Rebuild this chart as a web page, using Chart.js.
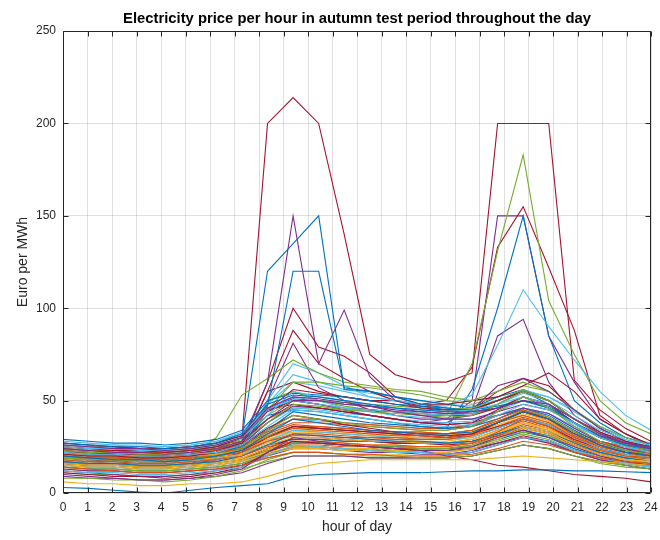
<!DOCTYPE html>
<html>
<head>
<meta charset="utf-8">
<script src="https://cdn.jsdelivr.net/npm/chart.js@4.4.1/dist/chart.umd.min.js"></script>
<style>
html,body{margin:0;padding:0;background:#fff;}
canvas{display:block;}
</style>
</head>
<body>
<canvas id="c" width="660" height="540"></canvas>
<script>
// Sample hours (24 samples spread from 0 to 24)
const sampleHours = [0,1.043,2.087,3.130,4.174,5.217,6.261,7.304,8.348,9.391,10.435,11.478,12.522,13.565,14.609,15.652,16.696,17.739,18.783,19.826,20.870,21.913,22.957,24];
const xTickLabels = [0,1,2,3,4,5,6,7,8,9,10,11,12,13,14,15,16,17,18,19,20,21,22,23,24];
const yTickLabels = [0,50,100,150,200,250];

// Lower part of the bundle
const lowSeries = [
 [3,2.5,1.5,0.5,0,1.5,3,4,5,9,10,10.5,11,11,11,11.5,12,12,12.5,12.5,12,12,11.5,11],
 [14,13,12,11,11,12,13,15,19,22,22,21,21,20,20,20,21,24,28,26,22,19,17,16],
 [6,5,5,4,4,5,5,6,9,13,16,17,18,18,18,18,18,19,20,19,18,17,16,15],
 [10,9,8,7,7,8,10,13,22,30,28,26,25,24,23,23,25,30,34,30,25,20,17,15],
 [8,8,7,7,6,7,9,12,18,22,22,21,20,20,19,19,20,23,26,24,20,17,15,13],
 [12,11,11,10,10,11,12,14,20,26,25,24,23,22,22,21,22,26,30,28,23,19,16,14],
 [11,10,9,9,8,9,11,14,22,28,27,26,25,24,23,20,18,15,14,12,10,9,8,6]
];

// Middle part of the bundle
const midSeries = [
 [20,19,18,18,17,18,20,23,32,40,38,36,34,33,32,32,33,38,44,40,32,26,22,20],
 [18,17,17,16,16,17,18,20,25,28,28,27,26,26,25,25,27,33,40,36,28,23,20,19],
 [16,15,15,14,14,15,16,18,22,25,25,24,24,23,23,23,25,30,36,33,26,21,18,17],
 [24,23,22,22,21,22,24,28,40,50,50,48,47,45,44,43,44,46,50,48,40,32,27,24],
 [19,18,18,17,17,18,20,24,34,42,40,38,36,35,34,34,36,44,52,46,36,28,23,21],
 [22,21,21,20,20,21,22,26,36,45,44,42,40,38,37,36,37,42,48,45,38,30,25,22],
 [21,20,20,19,19,20,22,26,35,42,40,37,35,33,32,31,32,38,44,40,32,26,22,20],

 [27,26,25,25,24,25,27,32,48,53,52,50,48,46,45,44,44,46,50,47,38,30,26,24],
 [20,19,19,18,18,19,20,22,28,32,32,31,30,30,29,29,31,38,44,40,31,25,22,21],
 [15,14,14,13,13,14,15,17,21,24,24,23,23,22,22,22,24,29,35,32,25,20,18,17],
 [26,25,24,24,23,24,26,30,46,52,51,49,47,44,42,40,40,44,48,45,38,31,27,25],
 [23,22,22,21,21,22,24,28,38,48,47,45,44,43,42,41,42,48,55,50,40,31,26,23],
 [25,24,24,23,23,24,26,30,42,55,52,50,48,46,45,44,45,48,52,48,40,32,27,24],
 [23,22,21,21,20,21,23,27,40,48,46,44,42,40,38,37,38,45,52,48,38,30,26,23],

 [17,16,16,15,15,16,17,20,26,32,31,30,29,28,28,27,28,32,36,33,27,22,19,17],
 [22,21,21,20,20,21,22,24,30,35,34,33,32,31,31,30,32,38,42,38,30,25,22,21],
 [19,18,18,17,17,18,19,21,26,30,30,29,28,28,27,27,29,34,38,35,28,23,20,19],
 [13,12,12,11,11,12,13,15,20,24,24,23,22,22,21,21,23,27,30,28,22,18,16,15],
 [16,15,15,14,14,15,16,18,23,27,27,26,25,25,24,24,26,30,33,31,25,20,18,16],
 [18,17,17,16,16,17,18,21,28,34,33,32,31,30,29,29,30,35,40,37,30,24,21,19],
 [19,18,18,17,17,18,20,23,30,36,35,34,33,32,31,30,32,36,40,36,29,24,21,19]
];

// Upper part of the bundle
const highSeries = [
 [29,28,27,27,26,27,29,34,50,54,53,52,50,48,47,45,45,47,50,46,38,31,27,25],
 [16,15,15,14,14,15,16,18,23,26,26,25,25,24,24,24,26,31,36,33,26,21,18,17],
 [21,20,20,19,19,20,21,23,29,33,33,32,31,30,30,29,31,36,40,36,29,24,21,20],
 [21,20,20,19,19,20,22,26,38,47,46,44,42,40,38,37,38,42,46,43,35,28,24,21],
 [14,13,13,12,12,13,14,16,21,25,25,24,23,23,22,22,24,28,32,29,23,19,16,15],
 [26,25,24,24,23,24,26,30,45,52,50,46,44,42,41,40,40,42,46,43,36,30,26,24],
 [25,24,23,23,22,23,25,30,45,56,54,52,50,48,46,45,45,50,55,50,40,32,27,24],

 [15,14,14,13,13,14,15,17,22,27,27,26,25,25,24,24,25,29,33,30,24,20,17,15],
 [24,23,23,22,22,23,24,26,32,37,36,35,34,33,33,32,34,40,45,40,32,27,24,22],
 [17,16,16,15,15,16,17,19,24,28,28,27,26,26,25,25,27,32,38,34,27,22,19,18],
 [12,11,10,9,9,10,12,15,21,25,25,24,23,22,22,21,22,26,30,27,22,18,15,13],
 [25,24,24,23,23,24,26,30,42,50,50,49,48,47,46,45,46,50,56,50,40,32,27,24],
 [14,13,13,12,12,13,14,16,22,27,27,26,25,24,24,23,25,29,33,30,24,19,16,14],
 [16,15,15,14,14,15,16,18,24,30,30,29,28,27,27,26,27,31,35,32,26,21,18,16],

 [22,21,21,20,20,21,22,25,34,44,42,40,38,37,36,35,36,40,46,42,34,27,23,21],
 [21,20,20,19,19,20,21,23,28,31,31,30,30,29,29,29,31,36,41,37,29,24,21,20],
 [23,22,22,21,21,22,23,25,30,34,34,33,32,32,31,31,33,38,43,39,31,26,23,21],
 [17,16,16,15,15,16,18,22,30,36,35,34,33,32,31,30,31,35,40,37,30,24,20,18],
 [20,19,19,18,18,19,21,24,31,36,35,34,33,32,31,31,33,38,45,41,33,26,22,20],
 [28,27,26,26,25,26,28,32,46,50,48,46,45,44,43,42,43,48,54,50,42,34,29,26],
 [27,26,25,24,24,25,27,31,44,50,48,46,45,44,43,42,42,46,52,48,40,33,28,25],

 [19,18,18,17,17,18,19,21,26,29,29,28,28,27,27,27,28,31,34,31,26,22,19,18],
 [19,18,18,17,17,18,19,21,26,29,29,28,28,28,27,27,29,34,39,35,28,23,20,19],
 [13,12,12,11,11,12,13,15,19,22,22,21,21,21,20,20,22,26,30,27,22,18,16,14],
 [9,8,8,7,7,8,9,11,16,20,20,20,19,19,19,19,20,23,26,24,20,17,15,13],
 [11,10,10,9,9,10,11,13,17,20,20,20,19,19,19,19,20,23,26,24,20,16,14,13],
 [24,23,23,22,22,23,24,27,38,46,45,43,42,40,39,38,39,44,50,46,37,30,25,23],
 [14,13,13,12,12,13,14,16,21,25,25,24,24,23,23,23,24,27,31,28,23,19,16,15]
];

// Days with price spikes
const spikeSeries = [
 [21,20,19,19,19,20,22,27,47,120,120,57,55,52,48,46,45,50,55,48,38,30,25,22],
 [23,22,22,21,21,22,23,25,31,36,36,35,34,33,33,32,34,39,44,39,31,26,23,21],
 [18,17,17,16,16,17,18,20,25,29,29,28,28,27,27,26,28,33,38,35,28,23,20,18],
 [20,19,18,18,18,19,22,28,60,150,70,99,63,50,46,44,45,58,62,55,45,35,28,24],
 [22,21,20,20,20,21,30,53,62,72,65,60,58,56,55,52,50,55,60,55,45,36,30,26],
 [18,17,17,16,16,17,19,24,50,70,65,58,52,50,48,46,45,50,56,52,45,36,29,25],
 [18,17,16,16,16,17,20,26,60,100,79,74,65,52,48,48,50,52,58,65,55,40,32,26],

 [24,23,22,22,22,23,25,30,120,135,150,56,55,52,50,48,46,52,56,50,40,32,27,24],
 [25,24,24,23,23,24,25,27,33,38,38,37,36,35,34,34,36,42,46,41,33,28,25,23],
 [20,19,19,18,18,19,20,22,27,31,31,30,29,29,28,28,30,35,40,36,29,24,21,20],
 [16,15,15,14,14,15,18,22,50,81,57,50,45,42,40,40,42,48,55,50,40,32,26,22],
 [20,19,19,18,18,19,21,26,45,60,60,58,57,55,53,50,48,52,58,55,45,35,28,24],
 [20,19,19,18,18,19,21,25,48,60,58,55,52,50,48,47,53,80,110,90,72,55,42,34],
 [17,16,16,15,15,16,19,24,55,88,70,62,55,50,47,46,45,55,62,58,45,35,28,24],

 [23,22,21,21,21,22,24,28,42,45,44,42,40,38,36,35,56,100,150,85,50,38,30,26],
 [26,25,25,24,24,25,26,28,34,40,40,38,37,36,35,35,37,42,45,40,33,28,25,23],
 [24,23,23,22,22,23,24,26,31,35,35,34,33,33,32,32,34,39,42,38,31,26,23,22],
 [19,18,17,17,17,18,20,24,45,48,46,44,42,40,38,38,45,85,94,60,42,33,27,23],
 [19,18,18,17,17,18,20,25,50,55,50,47,45,44,42,42,70,131,183,104,75,50,38,32],
 [27,26,26,25,25,26,28,33,48,64,60,56,54,52,50,48,47,50,55,52,44,36,30,27],
 [20,19,18,18,18,19,21,25,55,60,55,52,50,50,48,50,68,133,155,122,88,42,32,25],

 [26,25,25,24,24,25,27,31,46,51,50,48,47,46,44,43,43,46,50,46,38,31,27,24],
 [17,16,16,15,15,16,17,19,24,27,27,26,26,25,25,25,27,32,37,34,27,22,19,18],
 [22,21,21,20,20,21,22,24,29,33,33,32,31,31,30,30,32,37,41,37,30,25,22,20],
 [22,21,20,20,20,21,23,28,45,50,48,45,42,40,38,40,50,150,150,85,60,40,32,26],
 [24,23,23,22,22,23,25,29,40,46,46,45,45,44,44,43,44,50,56,50,40,32,27,24],
 [21,20,20,19,19,20,22,25,33,40,39,38,37,36,35,35,36,40,46,43,35,28,24,22],
 [22,22,21,20,20,21,24,30,200,214,200,140,75,64,60,60,65,200,200,200,61,45,35,28]
];

const palette = ['#0072BD','#D95319','#EDB120','#7E2F8E','#77AC30','#4DBEEE','#A2142F'];
const allSeries = [...lowSeries, ...midSeries, ...highSeries, ...spikeSeries];

const datasets = allSeries.map((vals, k) => ({
  data: vals.map((v, i) => ({x: sampleHours[i], y: v})),
  borderColor: palette[k % palette.length],
  borderWidth: 1.1,
  pointRadius: 0,
  fill: false,
  tension: 0
}));

const boxPlugin = {
  id: 'matlabBox',
  afterDatasetsDraw(chart) {
    const {ctx, chartArea: a, scales: {x, y}} = chart;
    ctx.save();
    ctx.strokeStyle = '#262626';
    ctx.lineWidth = 1;
    const L = Math.round(a.left) + 0.5, R = Math.round(a.right) - 0.5;
    const T = Math.round(a.top) + 0.5, B = Math.round(a.bottom) - 0.5;
    ctx.beginPath();
    ctx.rect(L, T, R - L, B - T);
    const tl = 5;
    xTickLabels.forEach(v => {
      const px = Math.round(x.getPixelForValue(v)) + 0.5;
      ctx.moveTo(px, B); ctx.lineTo(px, B - tl);
      ctx.moveTo(px, T); ctx.lineTo(px, T + tl);
    });
    yTickLabels.forEach(v => {
      const py = Math.round(y.getPixelForValue(v)) + 0.5;
      ctx.moveTo(L, py); ctx.lineTo(L + tl, py);
      ctx.moveTo(R, py); ctx.lineTo(R - tl, py);
    });
    ctx.stroke();
    ctx.restore();
  }
};

const fam = "'Liberation Sans', Arial, Helvetica, sans-serif";

new Chart(document.getElementById('c'), {
  type: 'line',
  data: { datasets },
  plugins: [boxPlugin],
  options: {
    responsive: false,
    animation: false,
    devicePixelRatio: 1,
    layout: { padding: { left: 0, right: 9, top: 10, bottom: 0 } },
    plugins: {
      legend: { display: false },
      tooltip: { enabled: false },
      title: {
        display: true,
        fullSize: false,
        text: 'Electricity price per hour in autumn test period throughout the day',
        color: '#000',
        font: { family: fam, size: 14.8, weight: 'bold' },
        padding: { top: 0, bottom: 3.3 }
      }
    },
    scales: {
      x: {
        type: 'linear',
        min: 0, max: 24,
        afterFit(s) { s.height = 47; s.paddingLeft = 0; s.paddingRight = 0; },
        afterBuildTicks(s) { s.ticks = xTickLabels.map(v => ({value: v})); },
        ticks: { color: '#262626', font: { family: fam, size: 12 }, autoSkip: false, maxRotation: 0, padding: 7 },
        grid: { color: 'rgba(38,38,38,0.15)', drawTicks: false },
        border: { display: false },
        title: { display: true, text: 'hour of day', color: '#262626', font: { family: fam, size: 14 }, padding: { top: 0, bottom: 4.6 } }
      },
      y: {
        min: 0, max: 250,
        afterFit(s) { s.width = 63; },
        afterBuildTicks(s) { s.ticks = yTickLabels.map(v => ({value: v})); },
        ticks: { color: '#262626', font: { family: fam, size: 12 }, padding: 7 },
        grid: { color: 'rgba(38,38,38,0.15)', drawTicks: false },
        border: { display: false },
        title: { display: true, text: 'Euro per MWh', color: '#262626', font: { family: fam, size: 14 }, padding: { top: 14.5, bottom: 0 } }
      }
    }
  }
});
</script>
</body>
</html>
